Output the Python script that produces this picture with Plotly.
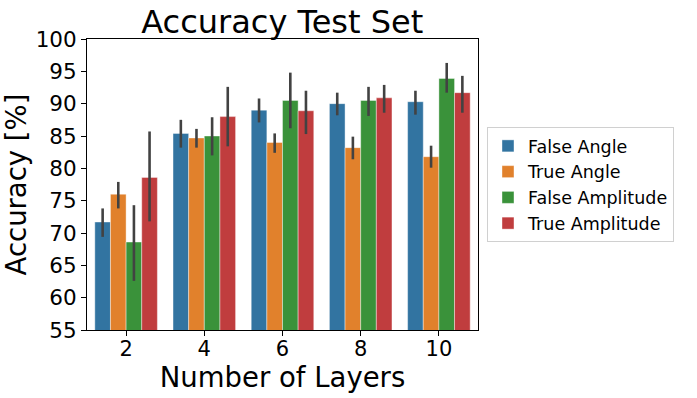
import plotly.graph_objects as go

layers = ["2", "4", "6", "8", "10"]
series_names = ["False Angle", "True Angle", "False Amplitude", "True Amplitude"]
colors = ["#3274a1", "#e1812c", "#3a923a", "#c03d3e"]

# mean accuracy per series, then upper / lower end of the error bar
false_angle = [71.7, 85.4, 89.0, 90.0, 90.3]
false_angle_hi = [73.8, 87.5, 90.8, 91.7, 92.0]
false_angle_lo = [69.4, 83.2, 87.1, 88.2, 88.3]

true_angle = [76.0, 84.7, 84.0, 83.2, 81.8]
true_angle_hi = [77.9, 86.1, 85.4, 84.9, 83.5]
true_angle_lo = [73.8, 83.2, 82.4, 81.4, 80.1]

false_amp = [68.6, 85.0, 90.5, 90.5, 93.9]
false_amp_hi = [74.3, 87.9, 94.8, 92.6, 96.3]
false_amp_lo = [62.6, 82.0, 86.2, 88.1, 91.7]

true_amp = [78.6, 88.0, 88.9, 90.9, 91.7]
true_amp_hi = [85.7, 92.6, 92.0, 92.9, 94.3]
true_amp_lo = [71.8, 83.4, 85.3, 88.6, 88.6]

means = [false_angle, true_angle, false_amp, true_amp]
highs = [false_angle_hi, true_angle_hi, false_amp_hi, true_amp_hi]
lows = [false_angle_lo, true_angle_lo, false_amp_lo, true_amp_lo]

font = "DejaVu Sans"

fig = go.Figure()
for name, color, m, hi, lo in zip(series_names, colors, means, highs, lows):
    fig.add_trace(go.Bar(
        x=layers, y=m, name=name,
        marker=dict(color=color, line=dict(color="rgba(255,255,255,0.5)", width=0.8)),
        error_y=dict(
            type="data", symmetric=False,
            array=[h - v for h, v in zip(hi, m)],
            arrayminus=[v - l for l, v in zip(lo, m)],
            color="#424242", thickness=2.6, width=0,
        ),
    ))

fig.update_layout(
    width=697, height=398,
    margin=dict(l=87, r=219, t=39, b=68, autoexpand=False),
    paper_bgcolor="white", plot_bgcolor="white",
    barmode="group", bargap=0.2, bargroupgap=0,
    font=dict(family=font, color="black"),
    title=dict(text="Accuracy Test Set", x=0.405, xanchor="center",
               y=0.945, yanchor="middle", font=dict(size=32)),
    legend=dict(
        x=1.023, xanchor="left", y=0.5, yanchor="middle",
        bordercolor="#d0d0d0", borderwidth=1,
        font=dict(size=17.5), tracegroupgap=0,
    ),
    showlegend=True,
)
fig.update_xaxes(
    title=dict(text="Number of Layers", font=dict(size=27.5), standoff=0),
    tickfont=dict(size=21), ticks="outside", ticklen=5, tickcolor="black",
    ticklabelstandoff=-5,
    showline=True, linecolor="black", linewidth=1, mirror=True,
    range=[-0.5, 4.5], automargin=False,
)
fig.update_yaxes(
    title=dict(text="Accuracy [%]", font=dict(size=27.5), standoff=4),
    tickfont=dict(size=21.5), ticks="outside", ticklen=5, tickcolor="black",
    showline=True, linecolor="black", linewidth=1, mirror=True,
    range=[55, 100], dtick=5, showgrid=False, zeroline=False, automargin=False,
)

# drop the browser's default body margin so the figure fills the window
fig.write_html("out.html", config={"displayModeBar": False},
               post_script="document.body.style.margin = '0';")
